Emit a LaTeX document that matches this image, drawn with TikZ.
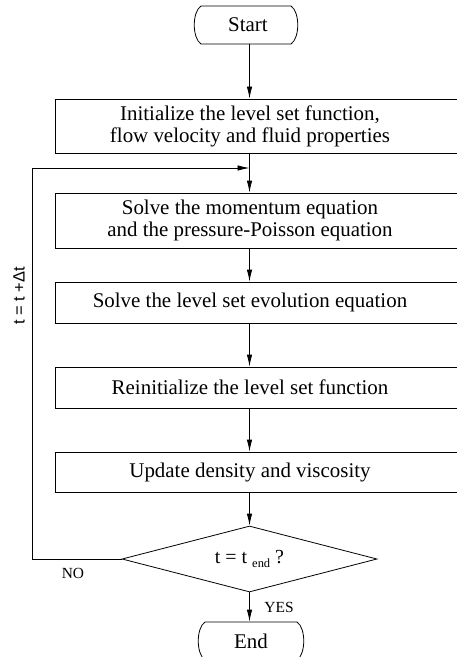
\documentclass[tikz,border=0pt]{standalone}
\usepackage{fontspec}
\setmainfont{Liberation Serif}
\newfontfamily\lsans{Liberation Sans}
\usetikzlibrary{shapes.geometric,arrows.meta,calc}
\newcommand{\shl}{\hspace*{14bp}}
\begin{document}
\begin{tikzpicture}[x=1bp,y=-1bp,
  line width=0.8bp,
  arr/.style={-{Latex[length=12bp,width=5.5bp]}},
  stepbox/.style={draw,rectangle,minimum width=404bp,inner sep=0pt,align=center,
    font=\fontsize{21}{22}\selectfont},
  term/.style={inner sep=0pt,minimum width=98bp,minimum height=38bp,font=\fontsize{21}{23}\selectfont},
  lbl/.style={inner sep=0pt,font=\fontsize{15.5}{17}\selectfont}]
\useasboundingbox (0,0) rectangle (457,657);
% terminals
\node[term] (start) at (248,25) {Start};
\draw (201,6) -- (291,6) .. controls (300,12) and (300,38) .. (291,44)
      -- (201,44) .. controls (192,38) and (192,12) .. (201,6);
\node[term] (end) at (251,641) {End};
\draw (205,622) -- (297,622) .. controls (306,628) and (306,654) .. (297,660)
      -- (205,660) .. controls (196,654) and (196,628) .. (205,622);
% process boxes
\node[stepbox,minimum height=54bp] (b1) at (257,126)
  {Initialize the level set function,\shl\\flow velocity and fluid properties\shl};
\node[stepbox,minimum height=55bp] (b2) at (257,220.5)
  {Solve the momentum equation\shl\\and the pressure-Poisson equation\shl};
\node[stepbox,minimum height=41bp] (b3) at (257,302.5)
  {Solve the level set evolution equation\shl};
\node[stepbox,minimum height=41bp] (b4) at (257,387.5)
  {Reinitialize the level set function\shl};
\node[stepbox,minimum height=40bp] (b5) at (257,472)
  {Update density and viscosity\shl};
% decision
\node[draw,diamond,minimum width=255bp,minimum height=66bp,aspect=3.86,inner sep=0pt,
  font=\fontsize{20}{22}\selectfont] (dec) at (249.5,559)
  {t = t \raisebox{-4.5bp}{\fontsize{12.5}{13}\selectfont end} ?};
% axis coordinates
\coordinate (ax) at (249.5,0);
\coordinate (lc) at (32,168);
\coordinate (jn) at (249.5,168);
% connectors
\draw[arr] (ax |- start.south) -- (ax |- b1.north);
\draw[arr] (ax |- b1.south) -- (ax |- b2.north);
\draw[arr] (ax |- b2.south) -- (ax |- b3.north);
\draw[arr] (ax |- b3.south) -- (ax |- b4.north);
\draw[arr] (ax |- b4.south) -- (ax |- b5.north);
\draw[arr] (ax |- b5.south) -- (dec.north);
\draw[arr] (dec.south) -- (ax |- end.north);
\draw[arr] (dec.west) -| (lc) -- (jn);
% labels
\node[lbl] (no) at (73,573) {NO};
\node[lbl] (yes) at (279,607) {YES};
\node[rotate=90,inner sep=0pt,font=\lsans\fontsize{16.5}{18}\selectfont] (dt) at (19,296) {t = t +Δt};
\end{tikzpicture}
\end{document}
